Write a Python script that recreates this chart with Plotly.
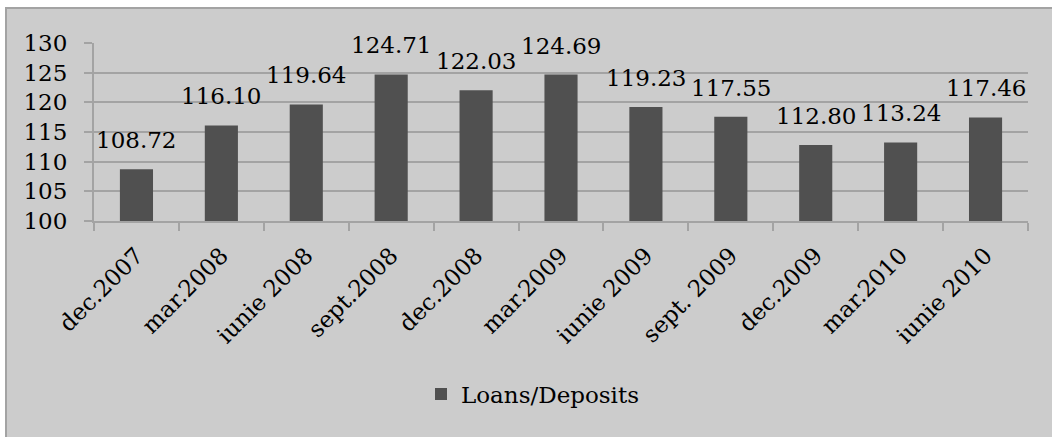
import plotly.graph_objects as go

categories = ["dec.2007", "mar.2008", "iunie 2008", "sept.2008", "dec.2008", "mar.2009",
              "iunie 2009", "sept. 2009", "dec.2009", "mar.2010", "iunie 2010"]
values = [108.72, 116.10, 119.64, 124.71, 122.03, 124.69, 119.23, 117.55, 112.80, 113.24, 117.46]
labels = ["108.72", "116.10", "119.64", "124.71", "122.03", "124.69",
          "119.23", "117.55", "112.80", "113.24", "117.46"]
y_ticks = [100, 105, 110, 115, 120, 125, 130]
series_name = "Loans/Deposits"

FONT = "DejaVu Serif"
FS = 23
W, H = 1052, 437
L, R, T, B = 94, 24, 43, 216
pw, ph = W - L - R, H - T - B

def px_x(p):
    return (p - L) / pw

def px_y(p):
    return (H - B - p) / ph

fig = go.Figure()
fig.add_trace(go.Bar(
    x=categories, y=values, name=series_name,
    marker=dict(color="#505050", line=dict(width=0)),
    showlegend=True,
))

for c, v, t in zip(categories, values, labels):
    fig.add_annotation(x=c, y=v, text=t, showarrow=False, yanchor="middle",
                       yshift=29, font=dict(family=FONT, size=FS, color="black"))

fig.add_shape(type="rect", xref="paper", yref="paper", layer="below",
              x0=px_x(6), x1=px_x(1070), y0=px_y(460), y1=px_y(8),
              fillcolor="#cccccc", line=dict(color="#a3a3a3", width=2))

fig.update_layout(
    template="none",
    width=W, height=H,
    margin=dict(l=L, r=R, t=T, b=B, pad=0, autoexpand=False),
    paper_bgcolor="white", plot_bgcolor="white",
    bargap=0.61,
    font=dict(family=FONT, size=FS, color="black"),
    legend=dict(orientation="h", xref="container", x=421 / W, xanchor="left",
                yref="container", y=1 - 394 / H, yanchor="middle",
                bgcolor="rgba(0,0,0,0)", font=dict(family=FONT, size=FS, color="black")),
    xaxis=dict(type="category", tickangle=-45, ticks="outside", tickson="boundaries",
               ticklen=8, tickcolor="#a3a3a3", tickwidth=2, showline=True, linecolor="#a3a3a3",
               linewidth=2, showgrid=False, automargin=False, ticklabelstandoff=10,
               tickfont=dict(family=FONT, size=FS)),
    yaxis=dict(range=[100, 130], tickvals=y_ticks, ticks="outside", ticklen=8,
               tickcolor="#a3a3a3", tickwidth=2, showline=True, linecolor="#a3a3a3", linewidth=2,
               showgrid=True, gridcolor="#a3a3a3", gridwidth=2, zeroline=False,
               automargin=False, ticklabelstandoff=12,
               tickfont=dict(family=FONT, size=FS)),
)

fig.write_html("out.html", config={"displayModeBar": False},
               post_script="document.body.style.margin='0';")
